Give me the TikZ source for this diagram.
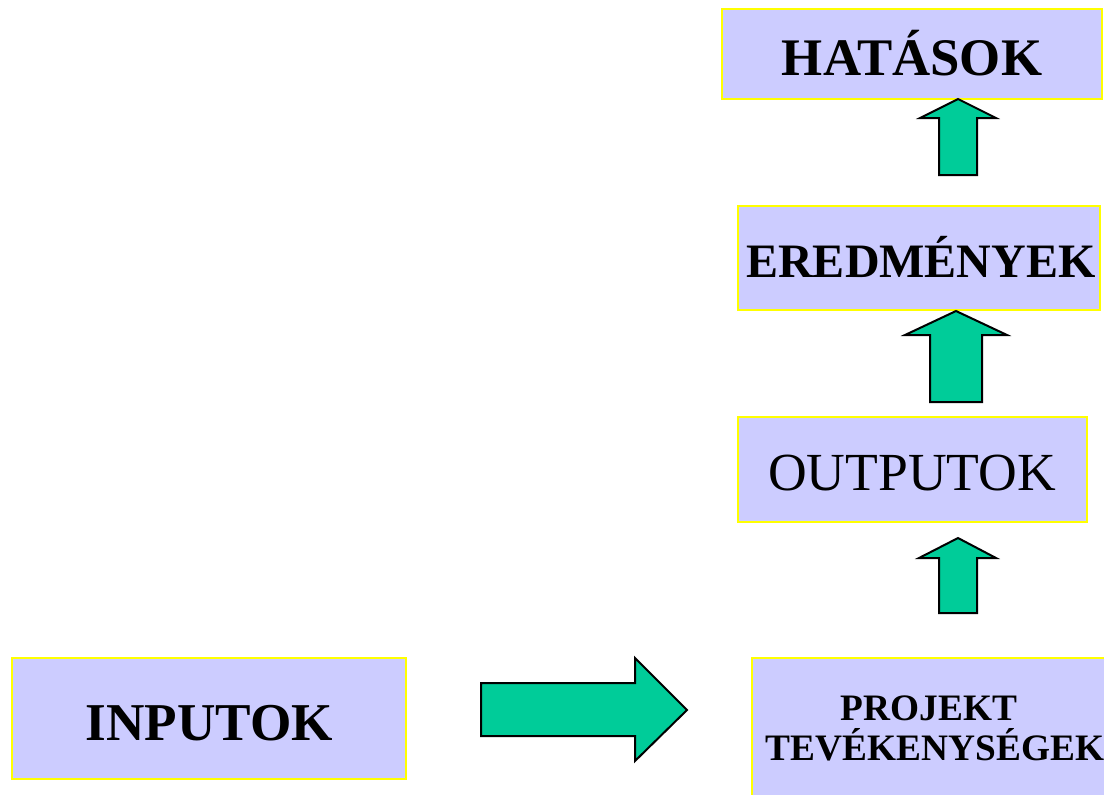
\documentclass[tikz,border=0pt]{standalone}
\usepackage{fontspec}
\setmainfont{Liberation Serif}
\definecolor{boxfill}{HTML}{CCCCFF}
\definecolor{boxline}{HTML}{FFFF00}
\definecolor{arrfill}{HTML}{00CC99}
\tikzset{
  box/.style={draw=boxline, line width=2.2pt, fill=boxfill, inner sep=0pt},
  blockarrow/.style={draw=black, line width=1.5pt, fill=arrfill, line join=miter},
  lbl/.style={anchor=base, inner sep=0pt, text=black}
}
\begin{document}
\begin{tikzpicture}[x=0.75pt,y=-0.75pt]
\useasboundingbox (0,0) rectangle (1104,794);
\clip (0,0) rectangle (1104,794);
% boxes
\node[box, minimum width=380*0.75pt, minimum height=90*0.75pt] (hat) at (912,54) {};
\node[box, minimum width=362*0.75pt, minimum height=104*0.75pt] (ered) at (919,258) {};
\node[box, minimum width=349*0.75pt, minimum height=105*0.75pt] (out) at (912.5,469.5) {};
\node[box, minimum width=364*0.75pt, minimum height=150*0.75pt] (proj) at (934,733) {};
\node[box, minimum width=394*0.75pt, minimum height=121*0.75pt] (inp) at (209,718.5) {};
% texts
\node[lbl] (hatT) at (912,75) {\fontsize{39.6}{47}\selectfont\bfseries HATÁSOK};
\node[lbl] (eredT) at (921,277) {\fontsize{36}{43}\selectfont\bfseries EREDMÉNYEK};
\node[lbl] (outT) at (912,490) {\fontsize{40.2}{48}\selectfont OUTPUTOK};
\node[lbl] (inpT) at (209.5,740) {\fontsize{39.9}{48}\selectfont\bfseries INPUTOK};
\node[lbl] (projT1) at (929,720) {\fontsize{28}{30}\selectfont\bfseries PROJEKT};
\node[lbl] (projT2) at (935,760) {\fontsize{28}{30}\selectfont\bfseries TEVÉKENYSÉGEK};
% up arrows
\draw[blockarrow] (958,99) -- (996,118) -- (977,118) -- (977,175) -- (939,175) -- (939,118) -- (920,118) -- cycle;
\draw[blockarrow] (956,311) -- (1007,335) -- (982,335) -- (982,402) -- (930,402) -- (930,335) -- (905,335) -- cycle;
\draw[blockarrow] (958,538) -- (996,558) -- (977,558) -- (977,613) -- (939,613) -- (939,558) -- (919,558) -- cycle;
% right arrow
\draw[blockarrow] (481,683) -- (635,683) -- (635,658) -- (687,710) -- (635,761) -- (635,736) -- (481,736) -- cycle;
\end{tikzpicture}
\end{document}
